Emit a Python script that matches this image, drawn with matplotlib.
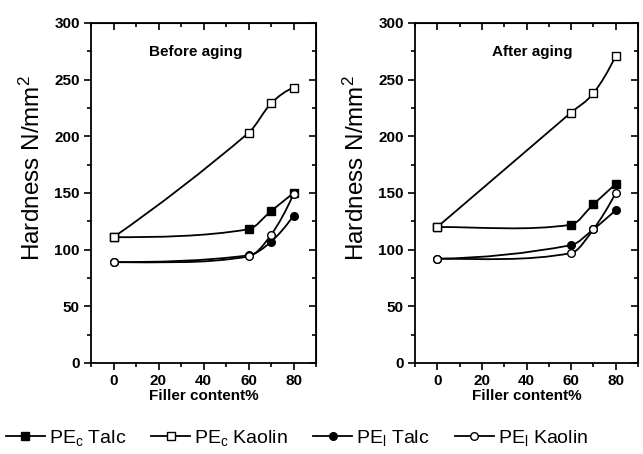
import numpy as np
import matplotlib
matplotlib.use('Agg')
import matplotlib.pyplot as plt
from matplotlib.path import Path
from matplotlib.patches import PathPatch
from matplotlib.lines import Line2D
from matplotlib.ticker import MultipleLocator

plt.rcParams['font.family'] = ['Liberation Sans', 'DejaVu Sans']
plt.rcParams['mathtext.fontset'] = 'custom'
plt.rcParams['mathtext.rm'] = 'Liberation Sans'
plt.rcParams['mathtext.it'] = 'Liberation Sans'

filler = [0, 60, 70, 80]

# before aging
before_pec_talc = [111, 118, 134, 150]
before_pec_kaolin = [111, 203, 229, 243]
before_pel_talc = [89, 95, 107, 130]
before_pel_kaolin = [89, 94, 113, 149]

# after aging
after_pec_talc = [120, 122, 140, 158]
after_pec_kaolin = [120, 221, 238, 271]
after_pel_talc = [92, 104, 118, 135]
after_pel_kaolin = [92, 97, 118, 150]

labels = ['PE$_\\mathregular{c}$ Talc', 'PE$_\\mathregular{c}$ Kaolin',
          'PE$_\\mathregular{l}$ Talc', 'PE$_\\mathregular{l}$ Kaolin']
markers = ['s', 's', 'o', 'o']
faces = ['black', 'white', 'black', 'white']


def curve_slopes(x, y):
    d = np.diff(y) / np.diff(x)
    m = np.zeros_like(y)
    # central differences inside, quadratic end segments
    m[1:-1] = (y[2:] - y[:-2]) / (x[2:] - x[:-2])
    m[0] = max(2 * d[0] - m[1], 0)
    m[-1] = max(2 * d[-1] - m[-2], 0)
    return m


def smooth_line(ax, x, y):
    # smooth curve through the points, drawn as cubic bezier segments
    x = np.asarray(x, float)
    y = np.asarray(y, float)
    m = curve_slopes(x, y)
    verts = [(x[0], y[0])]
    codes = [Path.MOVETO]
    for i in range(len(x) - 1):
        dx = (x[i + 1] - x[i]) / 3.0
        verts += [(x[i] + dx, y[i] + m[i] * dx),
                  (x[i + 1] - dx, y[i + 1] - m[i + 1] * dx),
                  (x[i + 1], y[i + 1])]
        codes += [Path.CURVE4] * 3
    ax.add_patch(PathPatch(Path(verts, codes), fill=False, lw=1.3,
                           edgecolor='black', zorder=2))


def panel(ax, series, title, tx):
    for ys, m, fc in zip(series, markers, faces):
        smooth_line(ax, filler, ys)
        ax.plot(filler, ys, linestyle='none', marker=m, ms=5.5,
                mfc=fc, mec='black', mew=1.0, zorder=3)
    ax.set_xlim(-10, 90)
    ax.set_ylim(0, 300)
    ax.xaxis.set_major_locator(MultipleLocator(20))
    ax.xaxis.set_minor_locator(MultipleLocator(10))
    ax.yaxis.set_major_locator(MultipleLocator(50))
    ax.yaxis.set_minor_locator(MultipleLocator(25))
    ax.tick_params(which='both', direction='out', width=1.2)
    ax.tick_params(which='major', length=5, labelsize=11, pad=3)
    ax.tick_params(which='minor', length=3)
    for lab in ax.get_xticklabels() + ax.get_yticklabels():
        lab.set_fontweight('bold')
    for s in ax.spines.values():
        s.set_linewidth(1.3)
    # inward ticks on top and right
    sx = ax.secondary_xaxis('top')
    sx.xaxis.set_major_locator(MultipleLocator(20))
    sx.xaxis.set_minor_locator(MultipleLocator(10))
    sx.tick_params(which='both', direction='in', labeltop=False, width=1.2)
    sx.tick_params(which='major', length=5)
    sx.tick_params(which='minor', length=3)
    sy = ax.secondary_yaxis('right')
    sy.yaxis.set_major_locator(MultipleLocator(50))
    sy.yaxis.set_minor_locator(MultipleLocator(25))
    sy.tick_params(which='both', direction='in', labelright=False, width=1.2)
    sy.tick_params(which='major', length=5)
    sy.tick_params(which='minor', length=3)
    ax.set_xlabel('Filler content%', fontsize=11, fontweight='bold', labelpad=1)
    ax.set_ylabel('Hardness N/mm$^\\mathregular{2}$', fontsize=17.5)
    ax.yaxis.set_label_coords(-0.205, 0.575)
    ax.text(tx, 0.915, title, transform=ax.transAxes, ha='center',
            va='center', fontsize=11, fontweight='bold')


fig = plt.figure(figsize=(6.43, 4.54), dpi=100)
ax1 = fig.add_axes([91 / 643, 1 - 363 / 454, 225 / 643, 340 / 454])
ax2 = fig.add_axes([415 / 643, 1 - 363 / 454, 223 / 643, 340 / 454])

panel(ax1, [before_pec_talc, before_pec_kaolin, before_pel_talc, before_pel_kaolin],
      'Before aging', 0.465)
panel(ax2, [after_pec_talc, after_pec_kaolin, after_pel_talc, after_pel_kaolin],
      'After aging', 0.525)

handles = [Line2D([], [], color='black', lw=1.3, marker=m, ms=5.5,
                  mfc=fc, mec='black') for m, fc in zip(markers, faces)]
fig.legend(handles, labels, loc='lower left', bbox_to_anchor=(0.0, 0.0),
           ncol=4, frameon=False, fontsize=14, handlelength=2.0,
           handletextpad=0.2, columnspacing=1.3, borderaxespad=0.2,
           borderpad=0.1)

fig.savefig('out.png', dpi=100)
